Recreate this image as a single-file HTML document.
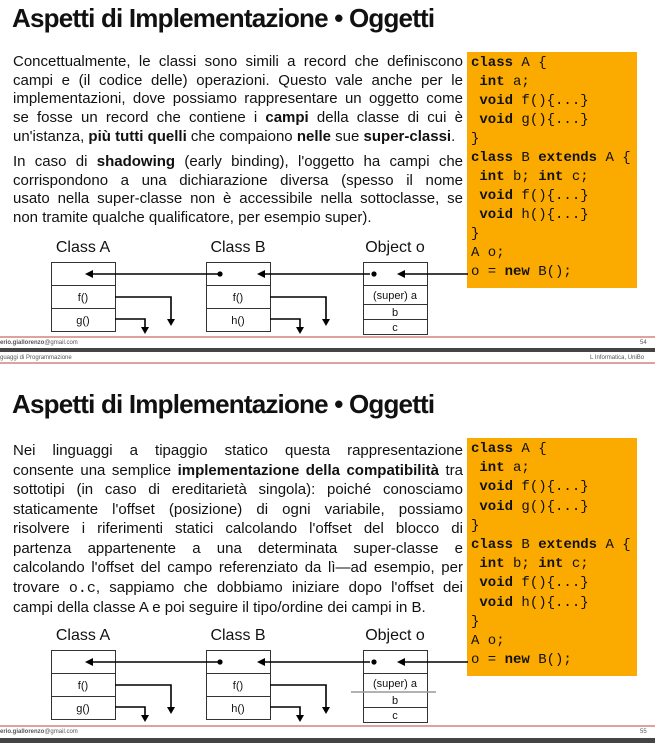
<!DOCTYPE html>
<html><head><meta charset="utf-8"><style>
*{margin:0;padding:0;box-sizing:border-box}
body{width:655px;height:743px;background:#fff;position:relative;overflow:hidden;font-family:"Liberation Sans",sans-serif;color:#111}
.t{position:absolute;left:12px;font-size:26px;font-weight:bold;letter-spacing:-0.8px;white-space:nowrap}
.p{position:absolute;left:13px;width:450px;font-size:15px}
.p div{white-space:nowrap;text-align:justify;text-align-last:justify}
.p div.l{text-align-last:left}
.code{position:absolute;left:467px;width:170px;background:#fbab00;font-family:"Liberation Mono",monospace;font-size:14px;padding-left:4px;white-space:pre;color:#111}
.code b{font-weight:bold}
.ft{position:absolute;left:0;font-size:6px;color:#555;white-space:nowrap}
.pl{position:absolute;left:0;width:655px;height:2px;background:#e0a0a0}
.db{position:absolute;left:0;width:655px;height:4px;background:#444}
svg{position:absolute;left:0}
</style></head><body>

<div class="t" style="top:3px">Aspetti di Implementazione • Oggetti</div>
<div class="p" style="top:53px;line-height:18.7px">
<div>Concettualmente, le classi sono simili a record che definiscono</div>
<div>campi e (il codice delle) operazioni. Questo vale anche per le</div>
<div>implementazioni, dove possiamo rappresentare un oggetto come</div>
<div>se fosse un record che contiene i <b>campi</b> della classe di cui è</div>
<div class="l">un'istanza, <b>più tutti quelli</b> che compaiono <b>nelle</b> sue <b>super-classi</b>.</div>
</div>
<div class="p" style="top:153px;line-height:18.7px">
<div>In caso di <b>shadowing</b> (early binding), l'oggetto ha campi che</div>
<div>corrispondono a una dichiarazione diversa (spesso il nome</div>
<div>usato nella super-classe non è accessibile nella sottoclasse, se</div>
<div class="l">non tramite qualche qualificatore, per esempio super).</div>
</div>
<div class="code" style="top:52px;height:236px;line-height:19px;padding-top:2px"><b>class</b> A {
 <b>int</b> a;
 <b>void</b> f(){...}
 <b>void</b> g(){...}
}
<b>class</b> B <b>extends</b> A {
 <b>int</b> b; <b>int</b> c;
 <b>void</b> f(){...}
 <b>void</b> h(){...}
}
A o;
o = <b>new</b> B();</div>

<svg width="655" height="100" style="top:235px" viewBox="0 235 655 100">
<g font-family="Liberation Sans" fill="#111">
<text x="83" y="252" font-size="16" text-anchor="middle">Class A</text>
<text x="238" y="252" font-size="16" text-anchor="middle">Class B</text>
<text x="395" y="252" font-size="16" text-anchor="middle">Object o</text>
</g>
<g fill="none" stroke="#333" stroke-width="1">
<rect x="51.5" y="262.5" width="64" height="69"/><line x1="51" y1="285.5" x2="116" y2="285.5"/><line x1="51" y1="308.5" x2="116" y2="308.5"/>
<rect x="206.5" y="262.5" width="64" height="69"/><line x1="206" y1="285.5" x2="271" y2="285.5"/><line x1="206" y1="308.5" x2="271" y2="308.5"/>
<rect x="363.5" y="262.5" width="64" height="72"/><line x1="363" y1="285.5" x2="428" y2="285.5"/><line x1="363" y1="304.5" x2="428" y2="304.5"/><line x1="363" y1="319.5" x2="428" y2="319.5"/>
</g>
<g stroke="#000" stroke-width="1.6" fill="none">
<line x1="90" y1="274" x2="220" y2="274"/><line x1="262" y1="274" x2="370" y2="274"/><line x1="404" y1="274" x2="468" y2="274"/>
<polyline points="115,297 171,297 171,322"/><polyline points="115,319 145,319 145,330"/>
<polyline points="270,297 326,297 326,322"/><polyline points="270,319 300,319 300,330"/>
</g>
<g fill="#000">
<polygon points="85,274 93,270 93,278"/><polygon points="257,274 265,270 265,278"/><polygon points="397,274 405,270 405,278"/>
<circle cx="220" cy="274" r="2.6"/><circle cx="374" cy="274" r="2.6"/>
<polygon points="171,326 167,319 175,319"/><polygon points="145,334 141,327 149,327"/><polygon points="326,326 322,319 330,319"/><polygon points="300,334 296,327 304,327"/>
</g>
<g font-family="Liberation Sans" font-size="11" text-anchor="middle" fill="#111">
<text x="83" y="301">f()</text><text x="83" y="324">g()</text>
<text x="238" y="301">f()</text><text x="238" y="324">h()</text>
<text x="395" y="299">(super) a</text><text x="395" y="316">b</text><text x="395" y="331">c</text>
</g>
</svg>

<div class="pl" style="top:336px"></div>
<div class="ft" style="top:340px"><b>erio.giallorenzo</b>@gmail.com</div>
<div class="ft" style="top:340px;left:640px">54</div>
<div class="db" style="top:348px"></div>
<div class="ft" style="top:355px">guaggi di Programmazione</div>
<div class="ft" style="top:355px;left:590px">L Informatica, UniBo</div>
<div class="pl" style="top:362px"></div>

<div class="t" style="top:389px">Aspetti di Implementazione • Oggetti</div>
<div class="p" style="top:441px;line-height:19.5px">
<div>Nei linguaggi a tipaggio statico questa rappresentazione</div>
<div>consente una semplice <b>implementazione della compatibilità</b> tra</div>
<div>sottotipi (in caso di ereditarietà singola): poiché conosciamo</div>
<div>staticamente l'offset (posizione) di ogni variabile, possiamo</div>
<div>risolvere i riferimenti statici calcolando l'offset del blocco di</div>
<div>partenza appartenente a una determinata super-classe e</div>
<div>calcolando l'offset del campo referenziato da lì—ad esempio, per</div>
<div>trovare <span style="font-family:'Liberation Mono',monospace">o.c</span>, sappiamo che dobbiamo iniziare dopo l'offset dei</div>
<div class="l">campi della classe A e poi seguire il tipo/ordine dei campi in B.</div>
</div>
<div class="code" style="top:438px;height:238px;line-height:19.2px;padding-top:2px"><b>class</b> A {
 <b>int</b> a;
 <b>void</b> f(){...}
 <b>void</b> g(){...}
}
<b>class</b> B <b>extends</b> A {
 <b>int</b> b; <b>int</b> c;
 <b>void</b> f(){...}
 <b>void</b> h(){...}
}
A o;
o = <b>new</b> B();</div>

<svg width="655" height="100" style="top:623px" viewBox="0 623 655 100">
<g font-family="Liberation Sans" fill="#111">
<text x="83" y="640" font-size="16" text-anchor="middle">Class A</text>
<text x="238" y="640" font-size="16" text-anchor="middle">Class B</text>
<text x="395" y="640" font-size="16" text-anchor="middle">Object o</text>
</g>
<g fill="none" stroke="#333" stroke-width="1">
<rect x="51.5" y="650.5" width="64" height="69"/><line x1="51" y1="673.5" x2="116" y2="673.5"/><line x1="51" y1="696.5" x2="116" y2="696.5"/>
<rect x="206.5" y="650.5" width="64" height="69"/><line x1="206" y1="673.5" x2="271" y2="673.5"/><line x1="206" y1="696.5" x2="271" y2="696.5"/>
<rect x="363.5" y="650.5" width="64" height="72"/><line x1="363" y1="673.5" x2="428" y2="673.5"/><line x1="363" y1="707.5" x2="428" y2="707.5"/>
</g>
<line x1="351" y1="692" x2="436" y2="692" stroke="#999" stroke-width="1.5"/>
<g stroke="#000" stroke-width="1.6" fill="none">
<line x1="90" y1="662" x2="220" y2="662"/><line x1="262" y1="662" x2="370" y2="662"/><line x1="404" y1="662" x2="468" y2="662"/>
<polyline points="115,685 171,685 171,710"/><polyline points="115,707 145,707 145,718"/>
<polyline points="270,685 326,685 326,710"/><polyline points="270,707 300,707 300,718"/>
</g>
<g fill="#000">
<polygon points="85,662 93,658 93,666"/><polygon points="257,662 265,658 265,666"/><polygon points="397,662 405,658 405,666"/>
<circle cx="220" cy="662" r="2.6"/><circle cx="374" cy="662" r="2.6"/>
<polygon points="171,714 167,707 175,707"/><polygon points="145,722 141,715 149,715"/><polygon points="326,714 322,707 330,707"/><polygon points="300,722 296,715 304,715"/>
</g>
<g font-family="Liberation Sans" font-size="11" text-anchor="middle" fill="#111">
<text x="83" y="689">f()</text><text x="83" y="712">g()</text>
<text x="238" y="689">f()</text><text x="238" y="712">h()</text>
<text x="395" y="687">(super) a</text><text x="395" y="704">b</text><text x="395" y="719">c</text>
</g>
</svg>

<div class="pl" style="top:725px"></div>
<div class="ft" style="top:729px"><b>erio.giallorenzo</b>@gmail.com</div>
<div class="ft" style="top:729px;left:640px">55</div>
<div class="db" style="top:738px;height:5px"></div>
</body></html>
